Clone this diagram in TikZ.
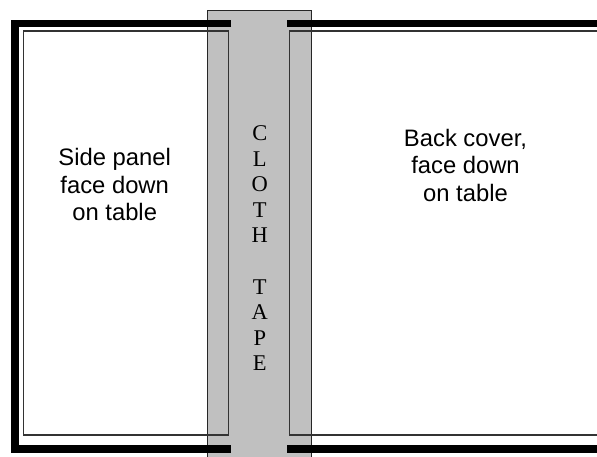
\documentclass[tikz,border=0pt]{standalone}
\usepackage{fontspec}
\setmainfont{Liberation Sans}
\newfontfamily\tapefont{Liberation Serif}
\begin{document}
\begin{tikzpicture}[x=1pt,y=-1pt,
  tape/.style={fill={rgb,255:red,192;green,192;blue,192},draw=black!85,line width=1pt},
  frame/.style={draw=black,line width=7.5pt,line join=miter,line cap=butt},
  panel/.style={draw=black!80,line width=1.7pt,line join=miter},
  label/.style={anchor=base,inner sep=0pt,font=\fontsize{23.8}{27}\selectfont},
  tapeletter/.style={anchor=base,inner sep=0pt,font=\tapefont\fontsize{22.5}{25}\selectfont}]
\useasboundingbox (0,0) rectangle (597,457);
\begin{scope}
\clip (0,0) rectangle (597,457);
% cloth tape
\path[tape] (207.5,10.5) rectangle (311,470);
% thick frame
\draw[frame] (231,23.5) -- (15,23.5) -- (15,449) -- (231,449);
\draw[frame] (287,23.5) -- (610,23.5);
\draw[frame] (287,449) -- (610,449);
% panels
\draw[panel] (23.5,31) rectangle (228.5,435);
\draw[panel] (610,31) -- (289.5,31) -- (289.5,435) -- (610,435);
\end{scope}
% labels
\node[label] (s1) at (114.7,166) {Side panel};
\node[label] (s2) at (114.7,193.3) {face down};
\node[label] (s3) at (114.7,220.6) {on table};
\node[label] (b1) at (465.5,146.7) {Back cover,};
\node[label] (b2) at (465.5,174) {face down};
\node[label] (b3) at (465.5,201.3) {on table};
\foreach \l/\k in {C/0,L/1,O/2,T/3,H/4,T/6,A/7,P/8,E/9}
  \node[tapeletter] (ct\k) at (259.8,141+25.5*\k) {\l};
\end{tikzpicture}
\end{document}
